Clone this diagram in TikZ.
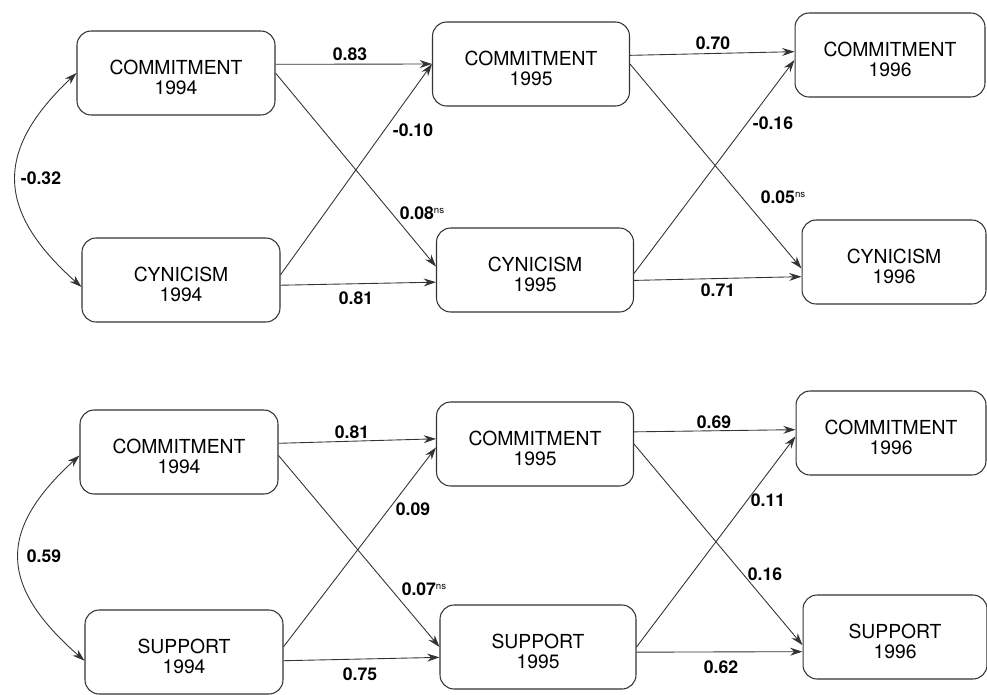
\documentclass[tikz,border=0pt]{standalone}
\usepackage{fontspec}
\setmainfont{TeX Gyre Heros}
\usetikzlibrary{arrows.meta}

\newcommand{\nsup}{\raisebox{3.5pt}{\fontsize{5.5}{6}\selectfont\mdseries ns}}

\begin{document}
\begin{tikzpicture}[x=0.02cm, y=-0.02cm]
			\tikzstyle{box}  = [rectangle, rounded corners=8pt, minimum height=1.68cm, inner sep=2pt, draw=black!80, line width=0.6pt, align=center, font=\fontsize{11}{11.5}\selectfont]
			\tikzstyle{wt}   = [inner sep=0pt, font=\fontsize{10}{12}\selectfont\bfseries]
			\tikzstyle{arr}  = [-{Stealth[length=7pt, width=4.5pt]}, draw=black!80, line width=0.5pt]
			\tikzstyle{corr} = [{Stealth[length=7pt, width=4.5pt]}-{Stealth[length=7pt, width=4.5pt]}, draw=black!80, line width=0.5pt]

			\useasboundingbox (0,0) rectangle (987,694);

			% upper model: commitment and cynicism
			\foreach \name/\x/\y/\w/\var/\yr in {c94/176/73/3.96/COMMITMENT/1994, cy94/181/280/3.96/CYNICISM/1994,
					c95/531/64/3.94/COMMITMENT/1995, cy95/535/270/3.94/CYNICISM/1995,
					c96/890/55/3.8/COMMITMENT/1996, cy96/894/262/3.68/CYNICISM/1996}
				\node[box, minimum width=\w cm] (\name) at (\x, \y) {\rule{0pt}{13pt}\var\\\yr};

			% lower model: commitment and support
			\foreach \name/\x/\y/\w/\var/\yr in {bc94/179/452/3.96/COMMITMENT/1994, s94/184/652/3.96/SUPPORT/1994,
					bc95/535/444/3.94/COMMITMENT/1995, s95/538/647/3.92/SUPPORT/1995,
					bc96/891/433/3.8/COMMITMENT/1996, s96/895/637/3.68/SUPPORT/1996}
				\node[box, minimum width=\w cm] (\name) at (\x, \y) {\rule{0pt}{13pt}\var\\\yr};

			\foreach \from/\to in {c94.5/c95.west, c94.east/cy95.178, cy94.3/c95.west, cy94.357/cy95.187,
					c95.5/c96.178, c95.east/cy96.184, cy95.358/c96.183, cy95.354/cy96.189,
					bc94.5/bc95.177, bc94.358/s95.west, s94.3/bc95.182, s94.355/s95.186,
					bc95.7/bc96.178, bc95.east/s96.185, s95.east/bc96.182, s95.357/s96.189}
				\draw[arr] (\from) -- (\to);

			\draw[corr] (c94.west) .. controls (-5,150) and (-5,210) .. (cy94.184);
			\draw[corr] (bc94.182) .. controls (-2,530) and (-2,585) .. (s94.185);

			\foreach \x/\y/\t [count=\i] in {350/54/0.83, 413/130/-0.10, 422/213/0.08\nsup, 356/298/0.81, 41/178/-0.32,
					713/43/0.70, 773/123/-0.16, 783/197/0.05\nsup, 718/290/0.71,
					352/432/0.81, 413/509/0.09, 424/589/0.07\nsup, 360/674/0.75, 44/556/0.59,
					714/422/0.69, 768/500/0.11, 765/574/0.16, 721/667/0.62}
				\node[wt] (w\i) at (\x, \y) {\t};
		\end{tikzpicture}
\end{document}
